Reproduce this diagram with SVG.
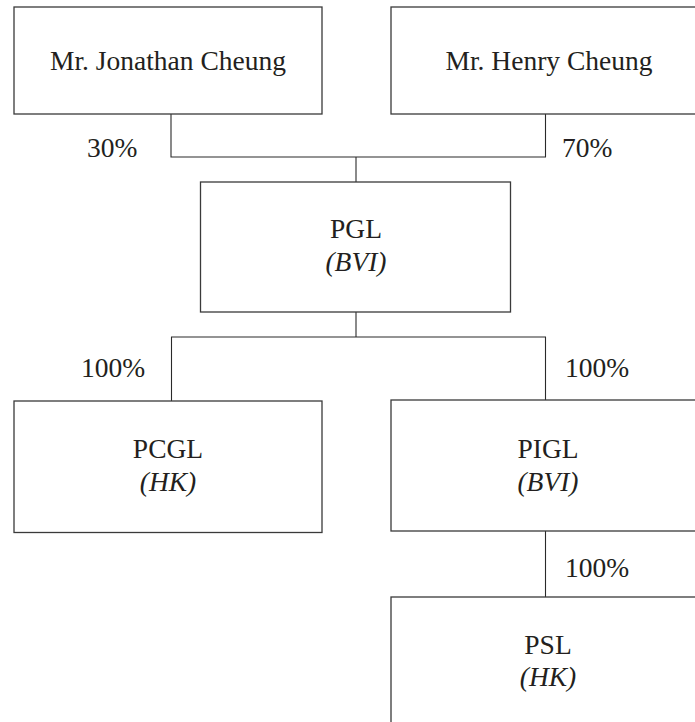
<svg xmlns="http://www.w3.org/2000/svg" width="695" height="722" viewBox="0 0 695 722">
<style>
.box{fill:#ffffff;stroke:#3a3a3a;stroke-width:1.3}
.ln{fill:none;stroke:#2a2a2a;stroke-width:1.1}
text{font-family:"Liberation Serif","Times New Roman",serif;font-size:27.5px;fill:#231f20;text-anchor:middle}
.it{font-style:italic}
.pct{text-anchor:start}
</style>
<rect width="695" height="722" fill="#ffffff"/>
<g id="connectors">
<path class="ln" d="M171,114 V157 H545.5 V114"/>
<path class="ln" d="M356,157 V182"/>
<path class="ln" d="M356,312 V337"/>
<path class="ln" d="M171.5,401 V337 H545.5 V400"/>
<path class="ln" d="M545.5,531 V597"/>
<text class="pct" x="87" y="157">30%</text>
<text class="pct" x="562" y="157">70%</text>
<text class="pct" x="81" y="377">100%</text>
<text class="pct" x="565" y="377">100%</text>
<text class="pct" x="565" y="577">100%</text>
</g>
<g id="jonathan">
<rect class="box" x="14" y="7" width="308" height="107"/>
<text x="168" y="70">Mr. Jonathan Cheung</text>
</g>
<g id="henry">
<rect class="box" x="391" y="7" width="320" height="107"/>
<text x="549" y="70">Mr. Henry Cheung</text>
</g>
<g id="pgl">
<rect class="box" x="200.5" y="182" width="310" height="130"/>
<text x="356" y="238">PGL</text>
<text class="it" x="356" y="271">(BVI)</text>
</g>
<g id="pcgl">
<rect class="box" x="14" y="401" width="308" height="131.5"/>
<text x="168" y="458">PCGL</text>
<text class="it" x="168" y="491">(HK)</text>
</g>
<g id="pigl">
<rect class="box" x="391" y="400" width="320" height="131"/>
<text x="548" y="458">PIGL</text>
<text class="it" x="548" y="491">(BVI)</text>
</g>
<g id="psl">
<rect class="box" x="391" y="597" width="320" height="140"/>
<text x="548" y="654">PSL</text>
<text class="it" x="548" y="686">(HK)</text>
</g>
</svg>
